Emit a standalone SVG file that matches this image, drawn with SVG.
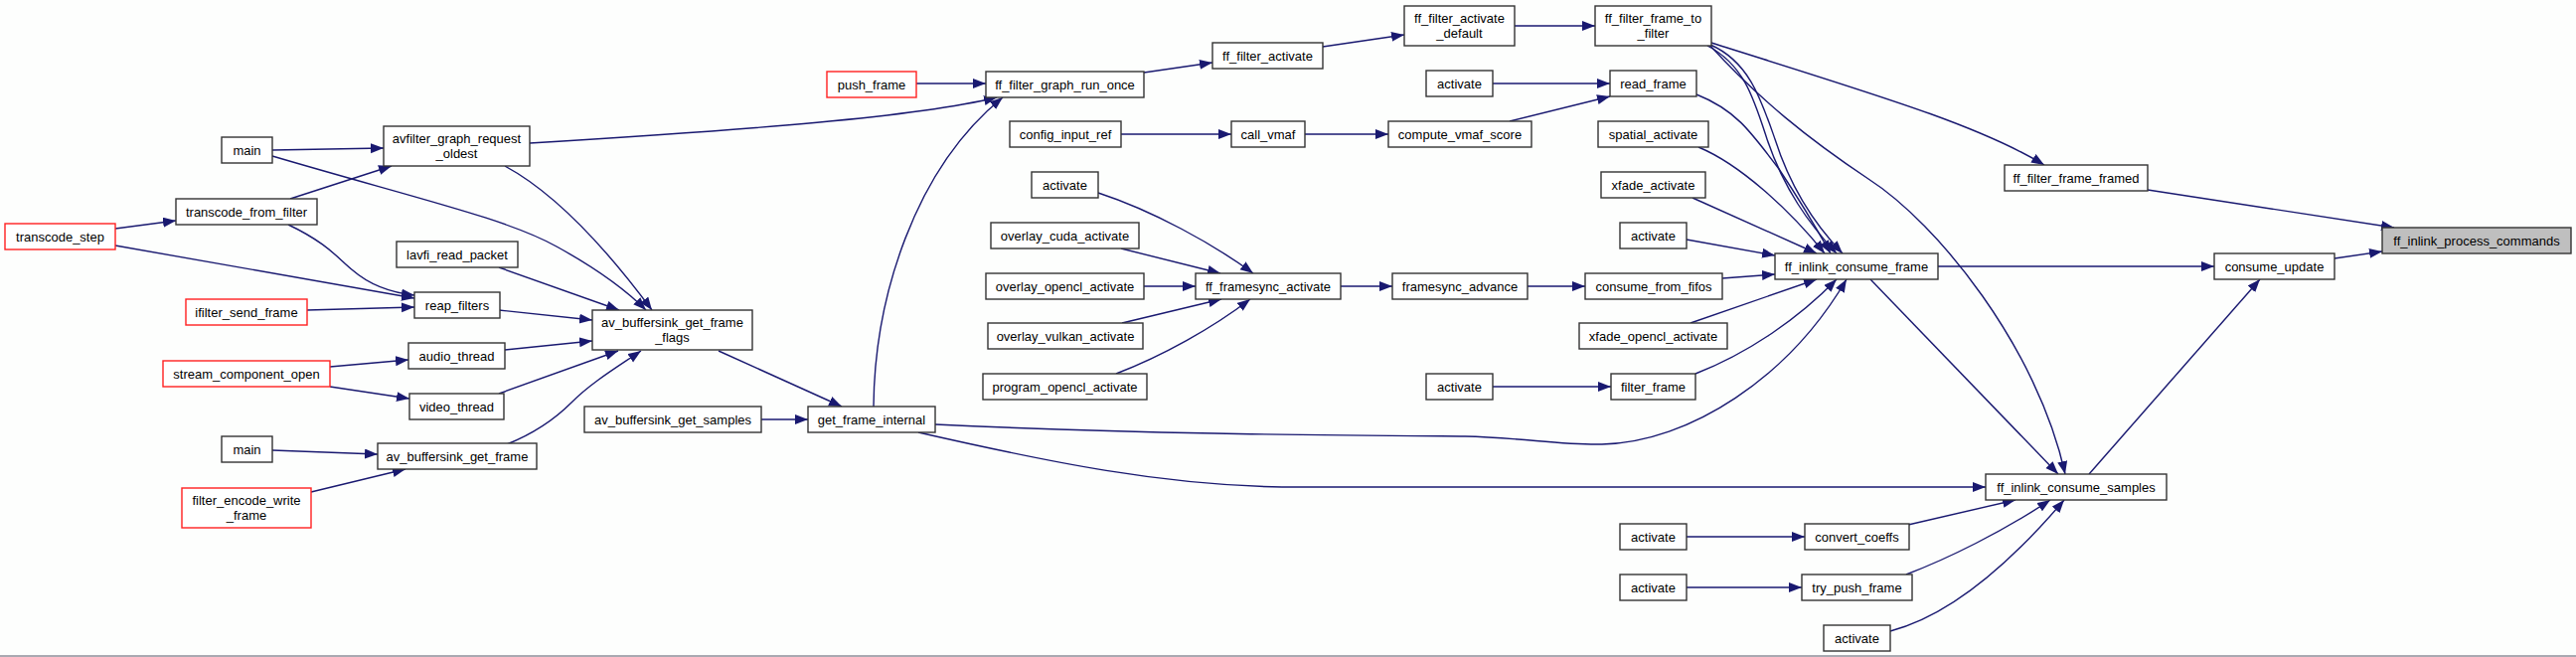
<svg xmlns="http://www.w3.org/2000/svg" width="2592" height="661" viewBox="0 0 2592 661">
<style>
.bg{fill:#fdfefd}
.node rect{fill:#ffffff;stroke:#333333;stroke-width:1.4}
.node.red rect{stroke:#ff2020}
.node.root rect{fill:#bfbfbf}
.node text{font-family:"Liberation Sans",Arial,sans-serif;font-size:13px;fill:#000;text-anchor:middle}
#edges path{fill:none;stroke:#191970;stroke-width:1.4;marker-end:url(#ah)}
</style>
<defs>
<marker id="ah" markerUnits="userSpaceOnUse" markerWidth="14" markerHeight="11" refX="13" refY="5" orient="auto">
<path d="M0,0 L13,5 L0,10 z" fill="#191970"/>
</marker>
</defs>
<rect class="bg" x="0" y="0" width="2592" height="661"/>
<rect x="0" y="659" width="2592" height="2" fill="#a9a9b1"/>

<g id="edges">
<path d="M116,230 L177,222"/>
<path d="M116,247 L417,300"/>
<path d="M292,200 L394,167"/>
<path d="M290,226 C330,245 340,260 355,272 C370,285 390,294 417,297"/>
<path d="M309,312 L417,309"/>
<path d="M274,151 L386,149"/>
<path d="M274,157 C420,200 510,220 560,248 C600,270 630,292 650,312"/>
<path d="M508,167 C560,195 610,250 656,312"/>
<path d="M502,269 L623,312"/>
<path d="M502,312 L596,322"/>
<path d="M508,352 L596,343"/>
<path d="M502,396 L622,353"/>
<path d="M510,447 C535,437 555,425 575,405 C595,385 620,370 645,353"/>
<path d="M332,369 L411,362"/>
<path d="M332,389 L412,401"/>
<path d="M274,453 L380,457"/>
<path d="M313,495 L408,472"/>
<path d="M723,353 L847,409"/>
<path d="M766,422 L813,422"/>
<path d="M879,409 C880,300 920,170 1009,98"/>
<path d="M533,144 C760,130 920,118 1003,98"/>
<path d="M922,84 L992,84"/>
<path d="M1151,73 L1220,63"/>
<path d="M1331,47 L1413,35"/>
<path d="M1524,26 L1605,26"/>
<path d="M1128,135 L1239,135"/>
<path d="M1313,135 L1397,135"/>
<path d="M1519,122 L1620,97"/>
<path d="M1502,84 L1620,84"/>
<path d="M1105,194 C1160,212 1220,245 1261,275"/>
<path d="M1128,250 L1228,275"/>
<path d="M1151,288 L1203,288"/>
<path d="M1129,325 L1229,301"/>
<path d="M1123,376 C1170,358 1220,330 1258,301"/>
<path d="M1349,288 L1401,288"/>
<path d="M1537,288 L1595,288"/>
<path d="M1502,389 L1621,389"/>
<path d="M1707,95 C1745,110 1760,130 1790,170 C1810,200 1825,225 1842,255"/>
<path d="M1709,148 C1750,165 1800,210 1836,255"/>
<path d="M1703,199 L1828,255"/>
<path d="M1697,241 L1786,257"/>
<path d="M1733,280 L1786,276"/>
<path d="M1701,325 L1828,281"/>
<path d="M1706,376 C1760,355 1810,320 1848,281"/>
<path d="M941,427 C1150,437 1350,438 1474,439 C1530,440 1570,448 1612,447 C1700,445 1800,380 1858,281"/>
<path d="M1718,46 C1755,65 1765,100 1778,140 C1795,190 1820,225 1848,255"/>
<path d="M1721,45 C1760,62 1772,100 1786,140 C1802,190 1828,228 1854,255"/>
<path d="M1720,45 C1770,100 1820,140 1880,180 C1950,225 2050,350 2078,477"/>
<path d="M1722,43 C1880,93 1990,125 2057,166"/>
<path d="M1950,268 L2228,268"/>
<path d="M1882,281 L2071,477"/>
<path d="M2102,477 L2274,281"/>
<path d="M2349,260 L2397,253"/>
<path d="M2161,191 L2409,229"/>
<path d="M924,435 C1060,466 1170,488 1290,490 L1998,490"/>
<path d="M1920,528 L2028,503"/>
<path d="M1918,578 C1960,562 2015,535 2063,503"/>
<path d="M1902,635 C1960,620 2020,570 2077,503"/>
<path d="M1697,540 L1816,540"/>
<path d="M1697,591 L1813,591"/>
</g>

<g id="transcode_step" class="node red"><rect x="5" y="225" width="111" height="26"/><text x="60.5" y="242.5">transcode_step</text></g>
<g id="main_1" class="node"><rect x="223" y="138" width="51" height="26"/><text x="248.5" y="155.5">main</text></g>
<g id="transcode_from_filter" class="node"><rect x="177" y="200" width="142" height="26"/><text x="248" y="217.5">transcode_from_filter</text></g>
<g id="ifilter_send_frame" class="node red"><rect x="187" y="301" width="122" height="26"/><text x="248" y="318.5">ifilter_send_frame</text></g>
<g id="stream_component_open" class="node red"><rect x="164" y="363" width="168" height="26"/><text x="248" y="380.5">stream_component_open</text></g>
<g id="main_2" class="node"><rect x="223" y="439" width="51" height="26"/><text x="248.5" y="456.5">main</text></g>
<g id="filter_encode_write_frame" class="node red"><rect x="183" y="491" width="130" height="40"/><text x="248" y="507.5">filter_encode_write</text><text x="248" y="522.5">_frame</text></g>
<g id="avfilter_graph_request_oldest" class="node"><rect x="386" y="127" width="147" height="40"/><text x="459.5" y="143.5">avfilter_graph_request</text><text x="459.5" y="158.5">_oldest</text></g>
<g id="lavfi_read_packet" class="node"><rect x="399" y="243" width="122" height="26"/><text x="460" y="260.5">lavfi_read_packet</text></g>
<g id="reap_filters" class="node"><rect x="417" y="294" width="86" height="26"/><text x="460" y="311.5">reap_filters</text></g>
<g id="audio_thread" class="node"><rect x="411" y="345" width="97" height="26"/><text x="459.5" y="362.5">audio_thread</text></g>
<g id="video_thread" class="node"><rect x="412" y="396" width="95" height="26"/><text x="459.5" y="413.5">video_thread</text></g>
<g id="av_buffersink_get_frame" class="node"><rect x="380" y="446" width="160" height="26"/><text x="460" y="463.5">av_buffersink_get_frame</text></g>
<g id="av_buffersink_get_frame_flags" class="node"><rect x="596" y="312" width="161" height="40"/><text x="676.5" y="328.5">av_buffersink_get_frame</text><text x="676.5" y="343.5">_flags</text></g>
<g id="av_buffersink_get_samples" class="node"><rect x="588" y="409" width="178" height="26"/><text x="677" y="426.5">av_buffersink_get_samples</text></g>
<g id="get_frame_internal" class="node"><rect x="813" y="409" width="128" height="26"/><text x="877" y="426.5">get_frame_internal</text></g>
<g id="push_frame" class="node red"><rect x="832" y="72" width="90" height="26"/><text x="877" y="89.5">push_frame</text></g>
<g id="ff_filter_graph_run_once" class="node"><rect x="992" y="72" width="159" height="26"/><text x="1071.5" y="89.5">ff_filter_graph_run_once</text></g>
<g id="config_input_ref" class="node"><rect x="1016" y="122" width="112" height="26"/><text x="1072" y="139.5">config_input_ref</text></g>
<g id="activate_1" class="node"><rect x="1038" y="173" width="67" height="26"/><text x="1071.5" y="190.5">activate</text></g>
<g id="overlay_cuda_activate" class="node"><rect x="997" y="224" width="149" height="26"/><text x="1071.5" y="241.5">overlay_cuda_activate</text></g>
<g id="overlay_opencl_activate" class="node"><rect x="992" y="275" width="159" height="26"/><text x="1071.5" y="292.5">overlay_opencl_activate</text></g>
<g id="overlay_vulkan_activate" class="node"><rect x="994" y="325" width="156" height="26"/><text x="1072" y="342.5">overlay_vulkan_activate</text></g>
<g id="program_opencl_activate" class="node"><rect x="989" y="376" width="165" height="26"/><text x="1071.5" y="393.5">program_opencl_activate</text></g>
<g id="ff_filter_activate" class="node"><rect x="1220" y="43" width="111" height="26"/><text x="1275.5" y="60.5">ff_filter_activate</text></g>
<g id="call_vmaf" class="node"><rect x="1239" y="122" width="74" height="26"/><text x="1276" y="139.5">call_vmaf</text></g>
<g id="ff_framesync_activate" class="node"><rect x="1203" y="275" width="146" height="26"/><text x="1276" y="292.5">ff_framesync_activate</text></g>
<g id="ff_filter_activate_default" class="node"><rect x="1413" y="6" width="111" height="40"/><text x="1468.5" y="22.5">ff_filter_activate</text><text x="1468.5" y="37.5">_default</text></g>
<g id="activate_2" class="node"><rect x="1435" y="71" width="67" height="26"/><text x="1468.5" y="88.5">activate</text></g>
<g id="compute_vmaf_score" class="node"><rect x="1397" y="122" width="144" height="26"/><text x="1469" y="139.5">compute_vmaf_score</text></g>
<g id="framesync_advance" class="node"><rect x="1401" y="275" width="136" height="26"/><text x="1469" y="292.5">framesync_advance</text></g>
<g id="activate_3" class="node"><rect x="1435" y="376" width="67" height="26"/><text x="1468.5" y="393.5">activate</text></g>
<g id="ff_filter_frame_to_filter" class="node"><rect x="1605" y="6" width="117" height="40"/><text x="1663.5" y="22.5">ff_filter_frame_to</text><text x="1663.5" y="37.5">_filter</text></g>
<g id="read_frame" class="node"><rect x="1620" y="71" width="87" height="26"/><text x="1663.5" y="88.5">read_frame</text></g>
<g id="spatial_activate" class="node"><rect x="1608" y="122" width="111" height="26"/><text x="1663.5" y="139.5">spatial_activate</text></g>
<g id="xfade_activate" class="node"><rect x="1611" y="173" width="105" height="26"/><text x="1663.5" y="190.5">xfade_activate</text></g>
<g id="activate_4" class="node"><rect x="1630" y="224" width="67" height="26"/><text x="1663.5" y="241.5">activate</text></g>
<g id="consume_from_fifos" class="node"><rect x="1595" y="275" width="138" height="26"/><text x="1664" y="292.5">consume_from_fifos</text></g>
<g id="xfade_opencl_activate" class="node"><rect x="1589" y="325" width="149" height="26"/><text x="1663.5" y="342.5">xfade_opencl_activate</text></g>
<g id="filter_frame" class="node"><rect x="1621" y="376" width="85" height="26"/><text x="1663.5" y="393.5">filter_frame</text></g>
<g id="activate_5" class="node"><rect x="1630" y="527" width="67" height="26"/><text x="1663.5" y="544.5">activate</text></g>
<g id="activate_6" class="node"><rect x="1630" y="578" width="67" height="26"/><text x="1663.5" y="595.5">activate</text></g>
<g id="ff_inlink_consume_frame" class="node"><rect x="1786" y="255" width="164" height="26"/><text x="1868" y="272.5">ff_inlink_consume_frame</text></g>
<g id="convert_coeffs" class="node"><rect x="1816" y="527" width="105" height="26"/><text x="1868.5" y="544.5">convert_coeffs</text></g>
<g id="try_push_frame" class="node"><rect x="1813" y="578" width="111" height="26"/><text x="1868.5" y="595.5">try_push_frame</text></g>
<g id="activate_7" class="node"><rect x="1835" y="629" width="67" height="26"/><text x="1868.5" y="646.5">activate</text></g>
<g id="ff_filter_frame_framed" class="node"><rect x="2017" y="166" width="144" height="26"/><text x="2089" y="183.5">ff_filter_frame_framed</text></g>
<g id="ff_inlink_consume_samples" class="node"><rect x="1998" y="477" width="182" height="26"/><text x="2089" y="494.5">ff_inlink_consume_samples</text></g>
<g id="consume_update" class="node"><rect x="2228" y="255" width="121" height="26"/><text x="2288.5" y="272.5">consume_update</text></g>
<g id="ff_inlink_process_commands" class="node root"><rect x="2397" y="229" width="190" height="26"/><text x="2492" y="246.5">ff_inlink_process_commands</text></g>
</svg>
